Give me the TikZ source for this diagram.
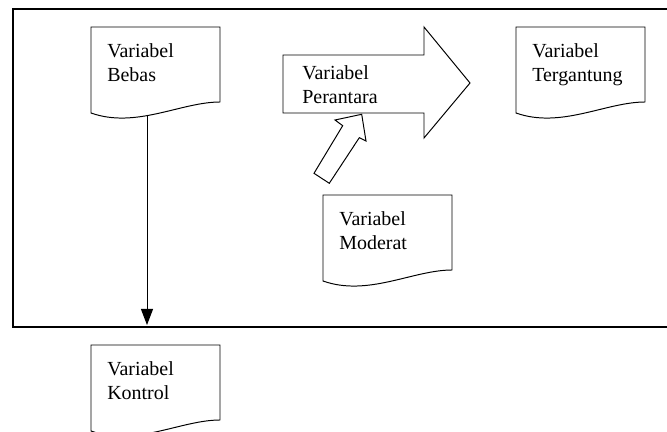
\documentclass[tikz,border=0pt]{standalone}
\usepackage{fontspec}
\setmainfont{Liberation Serif}
\usetikzlibrary{arrows.meta}

\tikzset{
  docline/.style={line width=0.7pt, line join=miter},
  frameline/.style={line width=1pt},
  doctext/.style={anchor=north west, inner sep=0pt, align=left,
    font=\fontsize{14.2pt}{17.2pt}\selectfont},
}

% document symbol: name, top left corner, text
\newcommand{\dokumen}[4]{%
  \begin{scope}[shift={(#2,#3)}]
    \draw[docline] (0,86) -- (0,0) -- (129,0) -- (129,75)
      .. controls (90,75) and (45,102) .. (0,86) -- cycle;
    \node[doctext] (#1) at (16,16.5) {#4};
    \coordinate (#1-foot) at (56,89);
  \end{scope}}

\begin{document}
\begin{tikzpicture}[x=0.025cm, y=-0.025cm]
    \useasboundingbox (0,0) rectangle (667,432);
    \clip (0,0) rectangle (667,432);
    \draw[frameline] (13,9) rectangle (690,327);

    \dokumen{bebas}{91}{27}{Variabel\\Bebas}
    \dokumen{tergantung}{516}{27}{Variabel\\Tergantung}
    \dokumen{moderat}{323}{195}{Variabel\\Moderat}
    \dokumen{kontrol}{91}{345}{Variabel\\Kontrol}

    % big arrow with the intervening variable
    \draw[docline] (283,55) -- (424,55) -- (424,27) -- (470,83)
      -- (424,138) -- (424,113) -- (283,113) -- cycle;
    \node[doctext] (perantara) at (302,65.5) {Variabel\\Perantara};

    % small arrow from the moderator
    \draw[docline] (361.7,114.3) -- (335,120) -- (342.7,125.7) -- (314,173.3)
      -- (329.3,183.3) -- (359.3,137.7) -- (366,141) -- cycle;

    \coordinate (frame-hit) at (147,325);
    \draw[docline, -{Triangle[length=0.4cm, width=0.3cm]}] (bebas-foot) -- (frame-hit);
\end{tikzpicture}
\end{document}
